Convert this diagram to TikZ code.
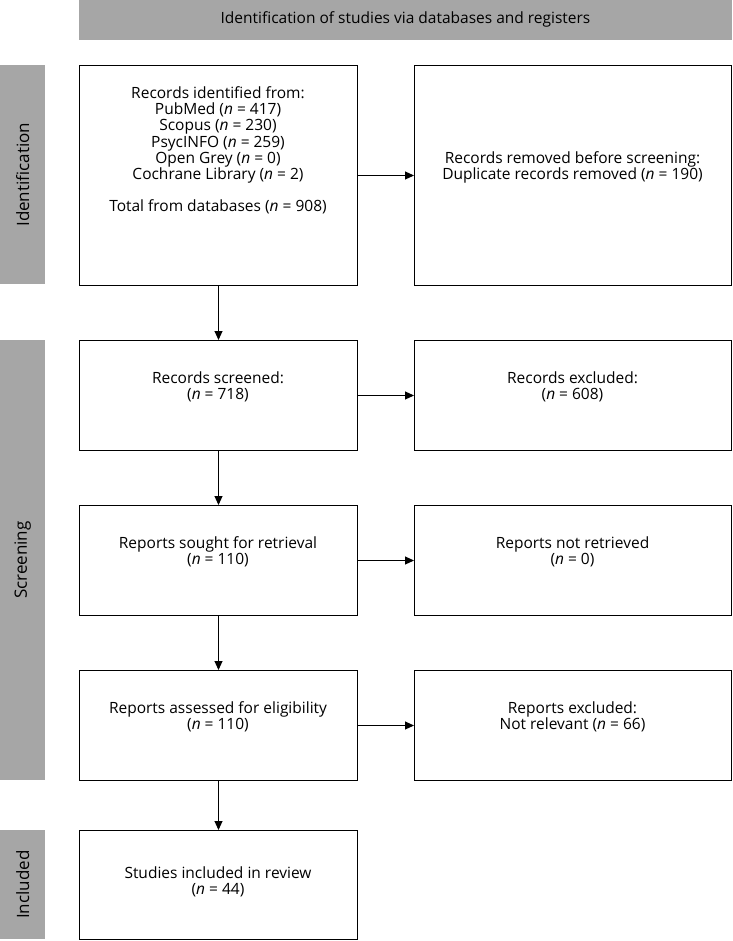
\documentclass[tikz,border=0pt]{standalone}
\usepackage{fontspec}
\setmainfont{Open Sans}
\usetikzlibrary{arrows.meta}
\definecolor{bandgray}{RGB}{166,166,166}
\begin{document}
\begin{tikzpicture}[x=1pt,y=-1pt,
  box/.style={draw=black, line width=1pt, fill=white, inner sep=0pt, anchor=north west},
  band/.style={fill=bandgray, draw=none, inner sep=0pt, anchor=north west},
  txt/.style={align=center, font=\fontsize{15.5}{16.2}\selectfont, inner sep=0pt},
  side/.style={align=center, font=\fontsize{17}{20}\selectfont, inner sep=0pt, rotate=90},
  arr/.style={line width=1pt, -{Triangle[length=9pt,width=8pt]}}]
\useasboundingbox (0,0) rectangle (732,941);
% banner and side bands
\node[band, minimum width=653pt, minimum height=40pt] (top) at (79,0) {};
\node[txt] (toptxt) at (405.5,19) {Identification of studies via databases and registers};
\node[band, minimum width=45pt, minimum height=219pt] (bid) at (0,65) {};
\node[band, minimum width=45pt, minimum height=440pt] (bsc) at (0,340) {};
\node[band, minimum width=45pt, minimum height=109pt] (bin) at (0,830) {};
\node[side] (lid) at (bid.center) {Identification};
\node[side] (lsc) at (bsc.center) {Screening};
\node[side] (lin) at (bin.center) {Included};
% boxes
\node[box, minimum width=278pt, minimum height=220pt] (b1) at (79,65) {};
\node[box, minimum width=317pt, minimum height=220pt] (b2) at (414,65) {};
\node[box, minimum width=278pt, minimum height=110pt] (b3) at (79,340) {};
\node[box, minimum width=317pt, minimum height=110pt] (b4) at (414,340) {};
\node[box, minimum width=278pt, minimum height=110pt] (b5) at (79,505) {};
\node[box, minimum width=317pt, minimum height=110pt] (b6) at (414,505) {};
\node[box, minimum width=278pt, minimum height=110pt] (b7) at (79,670) {};
\node[box, minimum width=317pt, minimum height=110pt] (b8) at (414,670) {};
\node[box, minimum width=278pt, minimum height=109pt] (b9) at (79,830) {};
% texts
\node[txt] (t1) at (218,150.5) {Records identified from:\\PubMed (\textit{n} = 417)\\Scopus (\textit{n} = 230)\\PsycINFO (\textit{n} = 259)\\Open Grey (\textit{n} = 0)\\Cochrane Library (\textit{n} = 2)\\[16.2pt]Total from databases (\textit{n} = 908)};
\node[txt] (t2) at (572.5,167.5) {Records removed before screening:\\Duplicate records removed (\textit{n} = 190)};
\node[txt] (t3) at (218,387) {Records screened:\\(\textit{n} = 718)};
\node[txt] (t4) at (572.5,387) {Records excluded:\\(\textit{n} = 608)};
\node[txt] (t5) at (218,552) {Reports sought for retrieval\\(\textit{n} = 110)};
\node[txt] (t6) at (572.5,552) {Reports not retrieved\\(\textit{n} = 0)};
\node[txt] (t7) at (218,717) {Reports assessed for eligibility\\(\textit{n} = 110)};
\node[txt] (t8) at (572.5,717) {Reports excluded:\\Not relevant (\textit{n} = 66)};
\node[txt] (t9) at (218,882) {Studies included in review\\(\textit{n} = 44)};
% connectors
\draw[arr] (b1.east) -- (b2.west);
\draw[arr] (b3.east) -- (b4.west);
\draw[arr] (b5.east) -- (b6.west);
\draw[arr] (b7.east) -- (b8.west);
\draw[arr] (b1.south) -- (b3.north);
\draw[arr] (b3.south) -- (b5.north);
\draw[arr] (b5.south) -- (b7.north);
\draw[arr] (b7.south) -- (b9.north);
\end{tikzpicture}
\end{document}
